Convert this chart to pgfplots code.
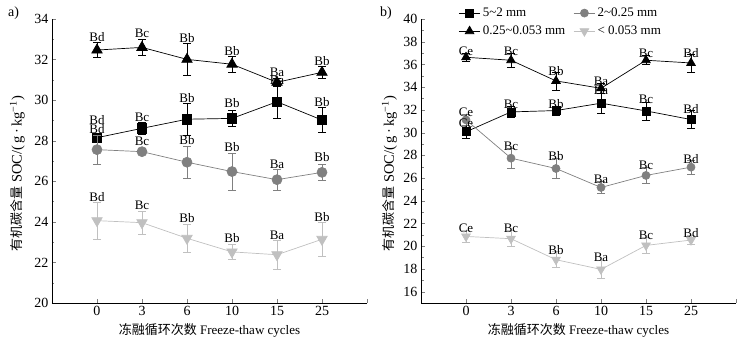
\documentclass[border=0pt]{standalone}
\usepackage{fontspec}
\setmainfont{Liberation Serif}
\newfontfamily\cjk{Noto Sans CJK SC}
\usepackage{pgfplots}
\usepackage{pgfplotstable}
\pgfplotsset{compat=1.18}

% columns: x y err label-y label
\pgfplotstableread{
x y e ly lab
1 28.15 0.20 29.00 Bd
2 28.61 0.28 29.15 Bc
3 29.06 0.80 30.12 Bb
4 29.10 0.40 29.85 Bb
5 29.92 0.80 31.00 Ba
6 29.02 0.62 29.92 Bb
}\Asq
\pgfplotstableread{
x y e ly lab
1 27.56 0.70 28.56 Bd
2 27.46 0.15 27.97 Bc
3 26.94 0.80 28.04 Bb
4 26.48 0.90 27.70 Bb
5 26.08 0.50 26.84 Ba
6 26.44 0.40 27.20 Bb
}\Aci
\pgfplotstableread{
x y e ly lab
1 32.47 0.36 33.10 Bd
2 32.60 0.40 33.30 Bc
3 32.01 0.80 33.05 Bb
4 31.77 0.40 32.40 Bb
5 30.88 0.20 31.35 Ba
6 31.37 0.30 31.93 Bb
}\Atr
\pgfplotstableread{
x y e ly lab
1 24.06 0.90 25.24 Bd
2 23.96 0.55 24.83 Bc
3 23.19 0.70 24.18 Bb
4 22.52 0.35 23.19 Bb
5 22.38 0.70 23.35 Ba
6 23.14 0.85 24.26 Bb
}\Ait

\pgfplotstableread{
x y e ly lab
1 30.07 0.60 30.83 Ce
2 31.82 0.50 32.53 Bc
3 31.94 0.40 32.53 Bb
4 32.59 0.90 33.70 Ba
5 31.91 0.80 32.94 Bc
6 31.15 0.80 32.06 Bd
}\Bsq
\pgfplotstableread{
x y e ly lab
1 31.12 0.50 31.80 Ce
2 27.75 0.90 28.77 Bc
3 26.84 0.90 27.90 Bb
4 25.17 0.50 25.85 Ba
5 26.23 0.70 27.16 Bc
6 26.96 0.60 27.67 Bd
}\Bci
\pgfplotstableread{
x y e ly lab
1 36.63 0.35 37.13 Ce
2 36.37 0.60 37.13 Bc
3 34.55 0.80 35.46 Bb
4 33.90 0.40 34.55 Ba
5 36.37 0.40 36.98 Bc
6 36.13 0.80 36.98 Bd
}\Btr
\pgfplotstableread{
x y e ly lab
1 20.86 0.50 21.54 Ce
2 20.66 0.70 21.54 Bc
3 18.81 0.70 19.69 Bb
4 17.96 0.80 19.00 Ba
5 20.07 0.70 20.92 Bc
6 20.54 0.40 21.16 Bd
}\Bit

\definecolor{cgray}{RGB}{128,128,128}
\definecolor{clight}{RGB}{192,192,192}

\pgfplotsset{
  base/.style={
    scale only axis, width=315pt, height=284pt,
    xmin=0, xmax=7,
    axis lines*=left,
    clip mode=individual,
    tick align=inside, tick pos=left,
    major tick length=4pt, minor tick length=2.5pt,
    xtick={1,2,3,4,5,6,7}, xticklabels={0,3,6,10,15,25,{}},
    minor y tick num=1,
    font=\fontsize{13}{15}\selectfont,
    tick label style={font=\fontsize{14}{16}\selectfont},
    /pgf/number format/assume math mode=true,
    xlabel={{\cjk 冻融循环次数} Freeze-thaw cycles},
    ylabel={{\fontsize{13}{15}\selectfont\cjk 有机碳含量} SOC/(\,g\,·\,kg\textsuperscript{−1})},
    ylabel style={font=\fontsize{14.5}{16}\selectfont},
    xlabel style={at={(axis description cs:0.5,0)}, anchor=center, yshift=-27pt},
    error bars/y dir=both, error bars/y explicit,
  },
  eb/.style={error bars/error bar style={#1, line width=0.6pt},
    error bars/error mark options={#1, rotate=90, mark size=4pt, line width=0.6pt}},
  lbl/.style={draw=none, mark=none, forget plot,
    nodes near coords, point meta=explicit symbolic,
    every node near coord/.append style={anchor=center, font=\fontsize{13}{15}\selectfont, inner sep=0pt}},
  sq/.style={black, line width=0.7pt, mark=square*, mark size=4.8pt, mark options={solid,fill=black}, eb=black},
  ci/.style={cgray, line width=0.7pt, mark=*, mark size=5pt, mark options={solid,fill=cgray}, eb=cgray},
  tr/.style={black, line width=0.7pt, mark=triangle*, mark size=6pt, mark options={solid,fill=black}, eb=black},
  it/.style={clight, line width=0.7pt, mark=triangle*, mark size=6pt, mark options={solid,fill=clight,rotate=180}, eb=clight},
}

\begin{document}
\begin{tikzpicture}
\useasboundingbox (-52pt,-43pt) rectangle (691pt,303pt);
\begin{axis}[base, ymin=20, ymax=34, ytick={20,22,...,34},
  ylabel style={at={(axis description cs:-0.11,0.455)}, anchor=center}]
  \addplot[sq] table[x=x,y=y,y error=e]{\Asq};
  \addplot[ci] table[x=x,y=y,y error=e]{\Aci};
  \addplot[tr] table[x=x,y=y,y error=e]{\Atr};
  \addplot[it] table[x=x,y=y,y error=e]{\Ait};
  \addplot[lbl] table[x=x,y=ly,meta=lab]{\Asq};
  \addplot[lbl] table[x=x,y=ly,meta=lab]{\Aci};
  \addplot[lbl] table[x=x,y=ly,meta=lab]{\Atr};
  \addplot[lbl] table[x=x,y=ly,meta=lab]{\Ait};
  \node[font=\fontsize{14}{16}\selectfont] at (axis description cs:-0.122,1.022) {a)};
\end{axis}
\begin{axis}[base, at={(369pt,0pt)}, ymin=15, ymax=40, ytick={16,18,...,40},
  ylabel style={at={(axis description cs:-0.10,0.455)}, anchor=center},
  legend columns=2, legend cell align=left,
  legend style={draw=none, fill=none, at={(axis description cs:0.115,1.05)}, anchor=north west,
    font=\fontsize{13}{15}\selectfont, row sep=4pt, inner sep=1pt,
    /tikz/every even column/.append style={column sep=6pt}},
  legend image code/.code={\draw[mark repeat=2,mark phase=2,#1] plot coordinates {(0cm,0cm) (0.38cm,0cm) (0.76cm,0cm)};},
  ]
  \addplot[sq, mark size=4pt] table[x=x,y=y,y error=e]{\Bsq};
  \addlegendentry{5\textasciitilde 2 mm}
  \addplot[ci, mark size=4pt] table[x=x,y=y,y error=e]{\Bci};
  \addlegendentry{2\textasciitilde 0.25 mm}
  \addplot[tr, mark size=5pt] table[x=x,y=y,y error=e]{\Btr};
  \addlegendentry{0.25\textasciitilde 0.053 mm}
  \addplot[it, mark size=5pt] table[x=x,y=y,y error=e]{\Bit};
  \addlegendentry{< 0.053 mm}
  \addplot[lbl] table[x=x,y=ly,meta=lab]{\Bsq};
  \addplot[lbl] table[x=x,y=ly,meta=lab]{\Bci};
  \addplot[lbl] table[x=x,y=ly,meta=lab]{\Btr};
  \addplot[lbl] table[x=x,y=ly,meta=lab]{\Bit};
  \node[font=\fontsize{14}{16}\selectfont] at (axis description cs:-0.111,1.022) {b)};
\end{axis}
\end{tikzpicture}
\end{document}
